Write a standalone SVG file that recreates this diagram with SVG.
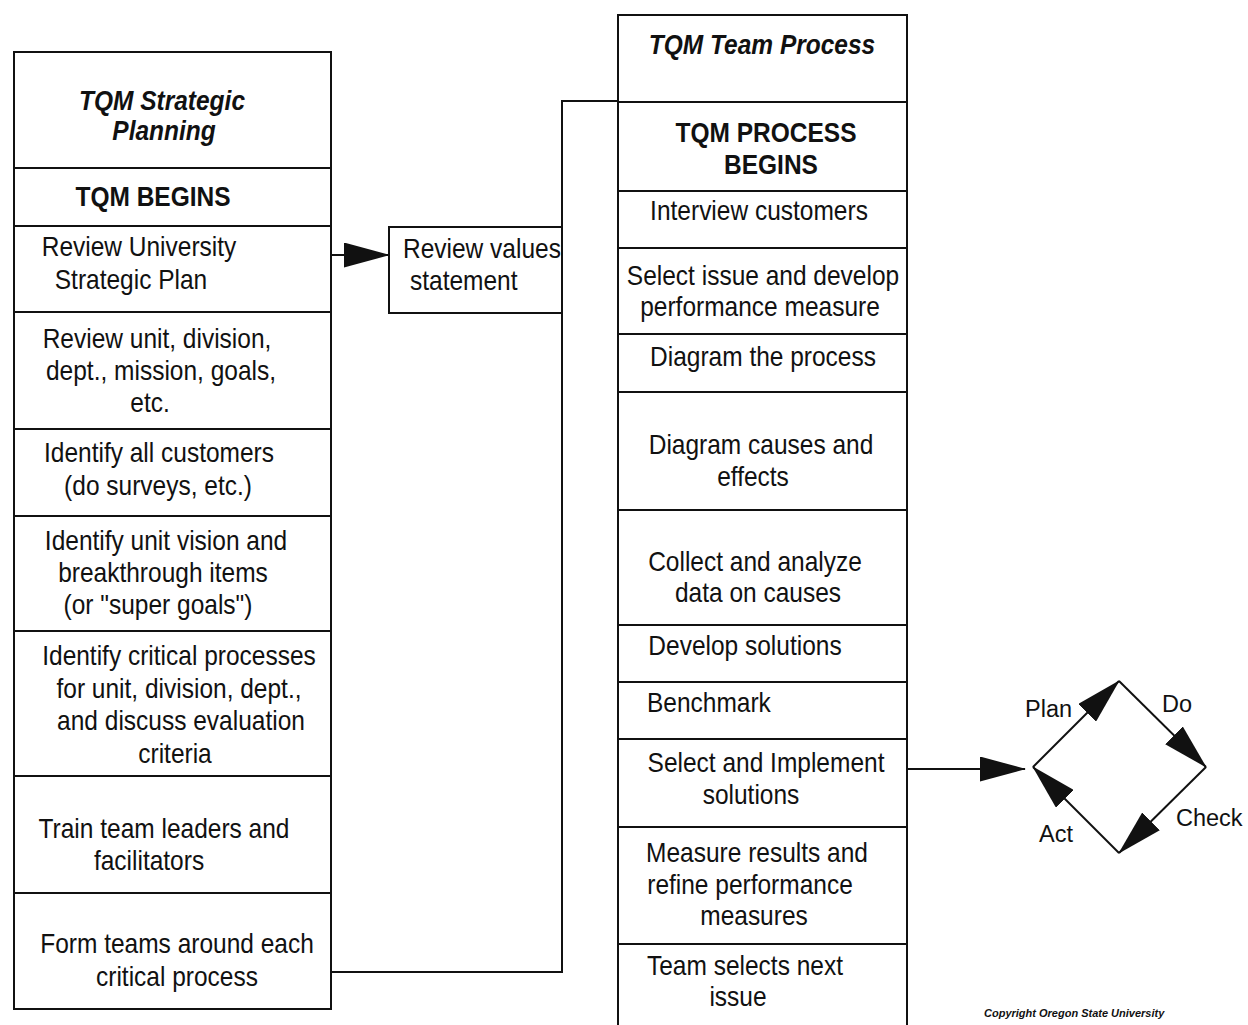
<svg xmlns="http://www.w3.org/2000/svg" width="1248" height="1025" viewBox="0 0 1248 1025">
  <style>
    .box { fill: #ffffff; stroke: #111111; stroke-width: 2; }
    .wire { fill: none; stroke: #111111; stroke-width: 2; }
    .t { font-family: "Liberation Sans", Arial, Helvetica, sans-serif; font-size: 24.5px; fill: #111111; text-anchor: middle; }
    .ts { text-anchor: start; }
    .b { font-weight: bold; }
    .bi { font-weight: bold; font-style: italic; }
    .lbl { font-family: "Liberation Sans", Arial, Helvetica, sans-serif; font-size: 23.5px; fill: #111111; }
    .copy { font-family: "Liberation Sans", Arial, Helvetica, sans-serif; font-size: 11px; font-weight: bold; font-style: italic; fill: #111111; }
  </style>
  <defs>
    <marker id="arrow" viewBox="0 0 46 25" markerWidth="46" markerHeight="25" refX="45" refY="12.5" orient="auto" markerUnits="userSpaceOnUse">
      <path d="M0,0 L46,12.5 L0,25 Z" fill="#111111"/>
    </marker>
  </defs>

  <rect width="1248" height="1025" fill="#ffffff"/>

  <!-- Strategic planning column -->
  <g id="sp-title">
    <rect class="box" x="14" y="52" width="317" height="116"/>
    <text class="t bi" transform="translate(162,110) scale(1,1.15)">TQM Strategic</text>
    <text class="t bi" transform="translate(164,140) scale(1,1.15)">Planning</text>
  </g>
  <g id="sp-begins">
    <rect class="box" x="14" y="168" width="317" height="58"/>
    <text class="t b" transform="translate(153,206) scale(1,1.15)">TQM BEGINS</text>
  </g>
  <g id="sp-university-plan">
    <rect class="box" x="14" y="226" width="317" height="86"/>
    <text class="t" transform="translate(139,256) scale(1,1.15)">Review University</text>
    <text class="t" transform="translate(131,289) scale(1,1.15)">Strategic Plan</text>
  </g>
  <g id="sp-unit-mission">
    <rect class="box" x="14" y="312" width="317" height="117"/>
    <text class="t" transform="translate(157,348) scale(1,1.15)">Review unit, division,</text>
    <text class="t" transform="translate(161,380) scale(1,1.15)">dept., mission, goals,</text>
    <text class="t" transform="translate(150,412) scale(1,1.15)">etc.</text>
  </g>
  <g id="sp-customers">
    <rect class="box" x="14" y="429" width="317" height="87"/>
    <text class="t" transform="translate(159,462) scale(1,1.15)">Identify all customers</text>
    <text class="t" transform="translate(158,495) scale(1,1.15)">(do surveys, etc.)</text>
  </g>
  <g id="sp-vision">
    <rect class="box" x="14" y="516" width="317" height="115"/>
    <text class="t" transform="translate(166,550) scale(1,1.15)">Identify unit vision and</text>
    <text class="t" transform="translate(163,582) scale(1,1.15)">breakthrough items</text>
    <text class="t" transform="translate(158,614) scale(1,1.15)">(or "super goals")</text>
  </g>
  <g id="sp-critical">
    <rect class="box" x="14" y="631" width="317" height="145"/>
    <text class="t" transform="translate(179,665) scale(1,1.15)">Identify critical processes</text>
    <text class="t" transform="translate(179,698) scale(1,1.15)">for unit, division, dept.,</text>
    <text class="t" transform="translate(181,730) scale(1,1.15)">and discuss evaluation</text>
    <text class="t" transform="translate(175,763) scale(1,1.15)">criteria</text>
  </g>
  <g id="sp-train">
    <rect class="box" x="14" y="776" width="317" height="117"/>
    <text class="t" transform="translate(164,838) scale(1,1.15)">Train team leaders and</text>
    <text class="t" transform="translate(149,870) scale(1,1.15)">facilitators</text>
  </g>
  <g id="sp-form-teams">
    <rect class="box" x="14" y="893" width="317" height="116"/>
    <text class="t" transform="translate(177,953) scale(1,1.15)">Form teams around each</text>
    <text class="t" transform="translate(177,986) scale(1,1.15)">critical process</text>
  </g>

  <!-- Values statement -->
  <g id="values">
    <rect class="box" x="389" y="227" width="173" height="86"/>
    <text class="t ts" transform="translate(403,258) scale(1,1.15)">Review values</text>
    <text class="t ts" transform="translate(410,290) scale(1,1.15)">statement</text>
  </g>

  <!-- Team process column -->
  <g id="tp-title">
    <rect class="box" x="618" y="15" width="289" height="87"/>
    <text class="t bi" transform="translate(762,54) scale(1,1.15)">TQM Team Process</text>
  </g>
  <g id="tp-begins">
    <rect class="box" x="618" y="102" width="289" height="89"/>
    <text class="t b" transform="translate(766,142) scale(1,1.15)">TQM PROCESS</text>
    <text class="t b" transform="translate(771,174) scale(1,1.15)">BEGINS</text>
  </g>
  <g id="tp-interview">
    <rect class="box" x="618" y="191" width="289" height="57"/>
    <text class="t" transform="translate(759,220) scale(1,1.15)">Interview customers</text>
  </g>
  <g id="tp-issue">
    <rect class="box" x="618" y="248" width="289" height="86"/>
    <text class="t" transform="translate(763,285) scale(1,1.15)">Select issue and develop</text>
    <text class="t" transform="translate(760,316) scale(1,1.15)">performance measure</text>
  </g>
  <g id="tp-diagram">
    <rect class="box" x="618" y="334" width="289" height="58"/>
    <text class="t" transform="translate(763,366) scale(1,1.15)">Diagram the process</text>
  </g>
  <g id="tp-causes">
    <rect class="box" x="618" y="392" width="289" height="118"/>
    <text class="t" transform="translate(761,454) scale(1,1.15)">Diagram causes and</text>
    <text class="t" transform="translate(753,486) scale(1,1.15)">effects</text>
  </g>
  <g id="tp-collect">
    <rect class="box" x="618" y="510" width="289" height="115"/>
    <text class="t" transform="translate(755,571) scale(1,1.15)">Collect and analyze</text>
    <text class="t" transform="translate(758,602) scale(1,1.15)">data on causes</text>
  </g>
  <g id="tp-solutions">
    <rect class="box" x="618" y="625" width="289" height="57"/>
    <text class="t" transform="translate(745,655) scale(1,1.15)">Develop solutions</text>
  </g>
  <g id="tp-benchmark">
    <rect class="box" x="618" y="682" width="289" height="57"/>
    <text class="t ts" transform="translate(647,712) scale(1,1.15)">Benchmark</text>
  </g>
  <g id="tp-implement">
    <rect class="box" x="618" y="739" width="289" height="88"/>
    <text class="t" transform="translate(766,772) scale(1,1.15)">Select and Implement</text>
    <text class="t" transform="translate(751,804) scale(1,1.15)">solutions</text>
  </g>
  <g id="tp-measure">
    <rect class="box" x="618" y="827" width="289" height="117"/>
    <text class="t" transform="translate(757,862) scale(1,1.15)">Measure results and</text>
    <text class="t" transform="translate(750,894) scale(1,1.15)">refine performance</text>
    <text class="t" transform="translate(754,925) scale(1,1.15)">measures</text>
  </g>
  <g id="tp-next">
    <rect class="box" x="618" y="944" width="289" height="90"/>
    <text class="t" transform="translate(745,975) scale(1,1.15)">Team selects next</text>
    <text class="t" transform="translate(738,1006) scale(1,1.15)">issue</text>
  </g>

  <!-- Plan / Do / Check / Act cycle -->
  <g id="pdca">
    <line class="wire" x1="1033" y1="767" x2="1119" y2="681" marker-end="url(#arrow)"/>
    <line class="wire" x1="1119" y1="681" x2="1206" y2="767" marker-end="url(#arrow)"/>
    <line class="wire" x1="1206" y1="767" x2="1119" y2="853" marker-end="url(#arrow)"/>
    <line class="wire" x1="1119" y1="853" x2="1033" y2="767" marker-end="url(#arrow)"/>
    <text class="lbl" x="1025" y="717">Plan</text>
    <text class="lbl" x="1162" y="712">Do</text>
    <text class="lbl" x="1176" y="826">Check</text>
    <text class="lbl" x="1039" y="842">Act</text>
  </g>

  <!-- Connectors -->
  <g id="connectors">
    <line class="wire" x1="331" y1="255" x2="389" y2="255" marker-end="url(#arrow)"/>
    <polyline class="wire" points="331,972 562,972 562,101 618,101"/>
    <line class="wire" x1="907" y1="769" x2="1025" y2="769" marker-end="url(#arrow)"/>
  </g>

  <text class="copy" x="984" y="1017">Copyright Oregon State University</text>
</svg>
